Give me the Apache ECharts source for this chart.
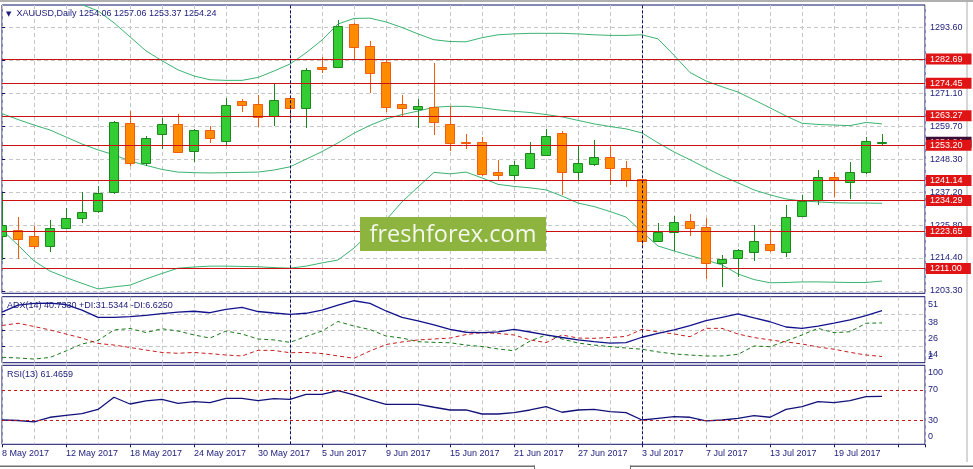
<!DOCTYPE html>
<html>
<head>
<meta charset="utf-8">
<script src="https://cdn.jsdelivr.net/npm/echarts@6.0.0/dist/echarts.min.js"></script>
<style>
html,body{margin:0;padding:0;background:#ffffff;}
#chart{width:973px;height:469px;}
</style>
</head>
<body>
<div id="chart"></div>
<script>
// ================= DATA =================
const symbolName = 'XAUUSD,Daily';
const dates = ['8 May 2017','9 May 2017','10 May 2017','11 May 2017','12 May 2017','15 May 2017','16 May 2017','17 May 2017','18 May 2017','19 May 2017',
  '22 May 2017','23 May 2017','24 May 2017','25 May 2017','26 May 2017','29 May 2017','30 May 2017','31 May 2017','1 Jun 2017','2 Jun 2017',
  '5 Jun 2017','6 Jun 2017','7 Jun 2017','8 Jun 2017','9 Jun 2017','12 Jun 2017','13 Jun 2017','14 Jun 2017','15 Jun 2017','16 Jun 2017',
  '19 Jun 2017','20 Jun 2017','21 Jun 2017','22 Jun 2017','23 Jun 2017','26 Jun 2017','27 Jun 2017','28 Jun 2017','29 Jun 2017','30 Jun 2017',
  '3 Jul 2017','4 Jul 2017','5 Jul 2017','6 Jul 2017','7 Jul 2017','10 Jul 2017','11 Jul 2017','12 Jul 2017','13 Jul 2017','14 Jul 2017',
  '17 Jul 2017','18 Jul 2017','19 Jul 2017','20 Jul 2017','21 Jul 2017','24 Jul 2017'];
const openP  = [1222.0,1224.2,1222.1,1218.8,1225.0,1228.2,1230.8,1237.1,1260.7,1247.0,
  1256.9,1260.4,1251.3,1258.4,1254.8,1268.4,1267.2,1263.1,1269.3,1265.9,
  1279.9,1279.9,1294.7,1287.2,1281.6,1267.2,1265.5,1266.4,1260.4,1254.3,
  1254.2,1243.9,1243.0,1245.3,1249.9,1257.3,1244.1,1246.7,1249.1,1245.3,
  1241.5,1220.5,1223.6,1227.2,1225.3,1212.8,1214.5,1216.8,1219.3,1216.8,
  1229.1,1234.5,1242.2,1240.5,1244.1,1254.06];
const highP  = [1237.0,1228.5,1225.6,1227.6,1231.6,1237.3,1239.3,1261.5,1264.9,1256.4,
  1262.4,1263.8,1258.7,1259.8,1269.5,1269.0,1270.4,1274.2,1270.0,1279.6,
  1283.3,1295.9,1295.2,1289.0,1282.2,1270.4,1269.0,1281.5,1266.6,1257.0,
  1255.9,1248.2,1247.8,1254.4,1258.7,1258.1,1253.3,1255.0,1253.3,1247.9,
  1241.7,1226.5,1229.0,1229.7,1228.2,1215.6,1217.5,1225.9,1224.5,1232.7,
  1236.2,1244.7,1243.9,1247.6,1256.0,1257.06];
const lowP   = [1214.0,1214.1,1217.6,1216.8,1224.4,1226.7,1230.1,1236.4,1246.1,1246.2,
  1251.8,1250.4,1247.6,1253.9,1253.3,1264.7,1259.4,1259.8,1261.6,1259.0,
  1277.8,1279.6,1282.6,1271.2,1264.4,1263.2,1259.0,1256.7,1251.3,1251.8,
  1242.7,1241.3,1241.0,1245.0,1249.5,1236.2,1241.3,1246.2,1239.6,1238.8,
  1218.3,1220.2,1217.1,1222.1,1207.3,1204.6,1208.2,1213.7,1216.5,1214.8,
  1228.5,1232.7,1235.6,1234.8,1243.3,1253.37];
const closeP = [1226.0,1221.0,1218.8,1224.8,1228.2,1230.2,1236.8,1261.1,1247.0,1255.6,
  1260.4,1251.0,1258.4,1255.6,1266.8,1266.9,1262.8,1268.7,1265.9,1279.0,
  1279.4,1294.0,1286.8,1277.8,1266.4,1265.9,1266.6,1261.1,1253.9,1254.0,
  1243.4,1243.0,1246.4,1250.4,1256.5,1244.1,1247.0,1249.1,1245.3,1241.3,
  1220.4,1223.6,1226.8,1225.0,1212.8,1214.3,1217.3,1220.4,1217.3,1228.5,
  1234.1,1242.2,1241.3,1244.1,1254.8,1254.24];
const bbUpper = [1303.8,1305.0,1306.6,1306.7,1304.1,1301.3,1299.2,1295.1,1290.3,1285.5,
  1282.1,1279.0,1276.9,1275.6,1275.4,1275.4,1276.4,1278.6,1281.0,1284.8,
  1289.2,1294.7,1296.6,1296.7,1295.4,1293.5,1291.3,1289.3,1288.7,1288.6,
  1290.0,1291.0,1291.3,1291.5,1291.5,1291.5,1291.3,1291.0,1290.8,1290.8,
  1291.0,1289.6,1284.0,1278.1,1275.2,1273.2,1271.4,1268.7,1266.0,1263.2,
  1260.7,1260.3,1260.1,1259.9,1261.0,1260.5];
const bbMiddle = [1264.0,1262.0,1260.1,1258.4,1256.0,1253.6,1251.6,1249.9,1247.8,1246.3,
  1244.9,1244.0,1243.8,1243.7,1243.8,1243.9,1244.0,1244.7,1245.8,1248.4,
  1251.0,1254.0,1257.3,1260.0,1262.2,1263.7,1264.9,1266.2,1266.5,1266.5,
  1266.0,1265.3,1264.8,1264.4,1263.7,1262.9,1261.7,1260.5,1259.6,1258.8,
  1257.4,1254.0,1250.9,1248.2,1245.4,1242.7,1240.3,1237.9,1236.2,1234.8,
  1234.1,1233.8,1233.5,1233.4,1233.4,1233.3];
const bbLower = [1224.2,1219.0,1213.6,1210.1,1207.9,1205.9,1204.0,1204.7,1205.3,1207.4,
  1209.3,1211.1,1211.5,1211.8,1211.8,1211.7,1211.6,1211.3,1211.1,1211.8,
  1212.9,1213.9,1218.0,1223.2,1227.6,1233.8,1238.9,1243.9,1243.4,1244.0,
  1242.0,1239.8,1239.1,1238.6,1237.9,1235.8,1233.4,1232.2,1230.5,1228.6,
  1223.5,1218.7,1217.0,1215.4,1213.9,1212.2,1209.1,1207.2,1206.1,1206.2,
  1206.4,1206.4,1206.3,1206.2,1206.2,1206.7];
const adx = [39.5,44.8,46.0,46.3,45.2,41.1,35.7,35.7,36.2,37.2,
  38.4,39.6,40.2,39.1,41.6,43.0,40.0,38.9,37.9,38.7,
  41.1,44.8,48.0,46.0,40.4,35.6,33.0,30.0,26.8,24.6,
  24.4,24.9,26.8,24.8,22.6,20.7,18.9,17.7,16.6,16.9,
  20.9,23.7,26.3,29.6,33.2,35.7,38.2,35.2,32.4,28.5,
  27.5,29.2,31.3,33.8,37.0,40.7330];
const plusDI = [6.0,5.5,4.7,5.9,10.7,15.9,18.5,26.3,27.4,24.4,
  27.2,25.5,22.6,20.3,25.5,23.3,19.6,18.9,17.1,21.5,
  25.5,32.6,29.2,26.6,21.8,20.3,17.6,17.1,16.8,15.1,
  14.0,12.2,10.9,18.1,22.6,19.6,16.6,15.1,14.0,12.9,
  12.0,10.0,8.5,7.7,7.0,7.0,8.2,14.4,13.9,18.1,
  22.6,27.5,24.3,25.0,31.3,31.5344];
const minusDI = [29.6,31.3,28.9,26.3,23.3,20.3,16.3,15.1,13.3,11.4,
  9.6,9.0,9.6,8.7,7.7,7.0,11.2,11.1,9.4,9.6,
  8.8,7.0,5.3,10.7,15.5,17.4,18.9,19.6,20.3,22.9,
  24.3,23.7,22.6,18.9,16.9,22.6,20.3,20.1,20.7,21.5,
  26.8,24.8,23.3,21.3,27.5,27.5,23.3,20.7,18.9,17.4,
  15.9,13.7,12.0,9.7,7.7,6.6250];
const rsi = [30.4,29.7,27.8,34.0,36.6,38.7,44.3,60.4,51.5,55.5,
  57.7,52.4,54.6,53.2,59.0,59.0,55.9,58.5,57.7,64.3,
  64.3,69.1,63.4,56.8,51.1,51.1,51.1,47.2,43.6,43.6,
  38.3,38.3,40.0,43.6,48.0,40.6,43.6,44.3,41.4,40.0,
  30.4,32.6,34.8,34.0,29.1,30.4,32.6,36.1,34.0,44.5,
  48.0,54.6,53.2,55.9,61.2,61.4659];
const priceTickLabels = ['1293.60','1282.40','1271.10','1259.70','1248.30','1237.20','1225.80','1214.40','1203.30'];
const levelPrices = [1282.69, 1274.45, 1263.27, 1253.20, 1241.14, 1234.29, 1223.65, 1211.00];
const adxScaleLabels = [51, 38, 26, 14, 2];
const adxGridLevels = [38, 26, 14];
const rsiScaleLabels = [100, 70, 30, 0];
const rsiLevels = [70, 30];
const watermarkText = 'freshforex.com';

// ================= STYLE / LAYOUT =================
const FONT = "'Liberation Sans', Arial, sans-serif";
const NAVY = '#10106A';
const TXT = '#1C1C7C';
const GRIDC = '#C6C6C6';
const SEP = '#0C0C66';
const RED = '#E01414';
const CLEAR = 'rgba(0,0,0,0)';
const BULL_FILL = '#33CC33', BULL_LINE = '#1E861E';
const BEAR_FILL = '#FF8C00', BEAR_LINE = '#F25C0C';
const BAND = '#3CB371';
const LEFT = 2, RIGHT = 48;
const XMAX = 57.6875;
const PMIN = 1202.5, PMAX = 1301.2;
const MAIN = {top: 5, height: 288.3};
const ADXP = {top: 296.7, height: 66, min: 2, max: 51};
const RSIP = {top: 365.3, height: 79, min: -1.7, max: 102.6};
const N = dates.length;

function py(p){ return MAIN.top + (PMAX - p) / (PMAX - PMIN) * MAIN.height; }
function ay(v){ return ADXP.top + (ADXP.max - v) / (ADXP.max - ADXP.min) * ADXP.height; }
const pairs = arr => arr.map((v, i) => [i, v]);
const candleData = dates.map((d, i) => [i, openP[i], closeP[i], lowP[i], highP[i]]);
const monthStarts = dates.map((d, i) => (i > 0 && d.split(' ')[1] !== dates[i-1].split(' ')[1]) ? i : -1).filter(i => i >= 0);
const sepItems = monthStarts.map(i => ({xAxis: i, label: {show: false}, lineStyle: {color: SEP, type: [3, 2], width: 1}}));

function shifted(text, shift){
  const pad = shift >= 0 ? [2 * shift, 0, 0, 0] : [0, 0, -2 * shift, 0];
  return {show: true, position: 'end', distance: 3, formatter: '{s|' + text + '}',
    rich: {s: {padding: pad, color: TXT, fontSize: 9, fontFamily: FONT, lineHeight: 10}}};
}

const g3Top = py(parseFloat(priceTickLabels[0]));
const g3Bot = py(parseFloat(priceTickLabels[priceTickLabels.length - 1]));
const g4Top = ay(adxGridLevels[0]);
const g4Bot = ay(adxGridLevels[adxGridLevels.length - 1]);

function xGridAxis(gi){
  return {type: 'value', gridIndex: gi, min: 0, max: XMAX, interval: 2,
    axisLine: {show: false}, axisTick: {show: false}, axisLabel: {show: false},
    splitLine: {show: true, lineStyle: {color: GRIDC, type: [4, 3], width: 1}}};
}

const chart = echarts.init(document.getElementById('chart'), null, {renderer: 'canvas'});
const lastI = N - 1;

const option = {
  animation: false,
  backgroundColor: '#ffffff',
  textStyle: {fontFamily: FONT},
  title: [
    {text: '{t|\u25BC}  ' + symbolName + ' ' + [openP[lastI], highP[lastI], lowP[lastI], closeP[lastI]].map(v => v.toFixed(2)).join(' '),
     left: 6, top: 8.5, padding: 0,
     textStyle: {fontSize: 9, fontWeight: 'normal', color: TXT, fontFamily: FONT, lineHeight: 11,
       rich: {t: {fontSize: 7, fontFamily: 'DejaVu Sans', color: TXT, lineHeight: 11}}}},
    {text: 'ADX(14) ' + adx[lastI].toFixed(4) + ' +DI:' + plusDI[lastI].toFixed(4) + ' -DI:' + minusDI[lastI].toFixed(4),
     left: 7, top: 300, padding: 0,
     textStyle: {fontSize: 9, fontWeight: 'normal', color: TXT, fontFamily: FONT, lineHeight: 11}},
    {text: 'RSI(13) ' + rsi[lastI].toFixed(4),
     left: 7, top: 369.5, padding: 0,
     textStyle: {fontSize: 9, fontWeight: 'normal', color: TXT, fontFamily: FONT, lineHeight: 11}}
  ],
  grid: [
    {left: LEFT, right: RIGHT, top: MAIN.top, height: MAIN.height, show: true, borderColor: NAVY, borderWidth: 1, backgroundColor: 'transparent', containLabel: false, outerBoundsMode: 'none'},
    {left: LEFT, right: RIGHT, top: ADXP.top, height: ADXP.height, show: true, borderColor: NAVY, borderWidth: 1, backgroundColor: 'transparent', containLabel: false, outerBoundsMode: 'none'},
    {left: LEFT, right: RIGHT, top: RSIP.top, height: RSIP.height, show: true, borderColor: NAVY, borderWidth: 1, backgroundColor: 'transparent', containLabel: false, outerBoundsMode: 'none'},
    {left: LEFT, right: RIGHT, top: g3Top, height: g3Bot - g3Top, show: false, containLabel: false, outerBoundsMode: 'none'},
    {left: LEFT, right: RIGHT, top: g4Top, height: g4Bot - g4Top, show: false, containLabel: false, outerBoundsMode: 'none'}
  ],
  xAxis: [
    xGridAxis(0), xGridAxis(1), xGridAxis(2),
    {type: 'value', gridIndex: 2, min: 0, max: XMAX, interval: 4, position: 'bottom',
     axisLine: {show: false}, splitLine: {show: false},
     axisTick: {show: true, length: 3, lineStyle: {color: NAVY}},
     axisLabel: {show: true, align: 'left', margin: 5, color: TXT, fontSize: 9, fontFamily: FONT,
       formatter: v => (Number.isInteger(v) && v % 4 === 0 && dates[v]) ? dates[v] : ''}},
    {type: 'value', gridIndex: 3, min: 0, max: 1, show: false},
    {type: 'value', gridIndex: 4, min: 0, max: 1, show: false}
  ],
  yAxis: [
    {type: 'value', gridIndex: 0, min: PMIN, max: PMAX, show: false},
    {type: 'value', gridIndex: 1, min: ADXP.min, max: ADXP.max, show: false},
    {type: 'value', gridIndex: 2, min: RSIP.min, max: RSIP.max, show: false},
    {type: 'value', gridIndex: 3, min: 0, max: priceTickLabels.length - 1, interval: 1, position: 'right',
     axisLine: {show: false},
     axisTick: {show: true, length: 3, lineStyle: {color: NAVY}},
     splitLine: {show: true, lineStyle: {color: GRIDC, type: [4, 3], width: 1}},
     axisLabel: {show: true, margin: 5, color: TXT, fontSize: 9, fontFamily: FONT, showMinLabel: true, showMaxLabel: true,
       formatter: v => priceTickLabels[priceTickLabels.length - 1 - v] || ''}},
    {type: 'value', gridIndex: 4, min: 0, max: adxGridLevels[0] - adxGridLevels[adxGridLevels.length - 1], interval: 12, position: 'right',
     axisLine: {show: false}, axisLabel: {show: false},
     axisTick: {show: true, length: 3, lineStyle: {color: NAVY}},
     splitLine: {show: true, lineStyle: {color: GRIDC, type: [4, 3], width: 1}}}
  ],
  graphic: [
    {type: 'rect', shape: {x: 0, y: 0, width: 973, height: 2}, style: {fill: '#B0B0B0'}, silent: true},
    {type: 'rect', shape: {x: 966, y: 2, width: 2, height: 460}, style: {fill: '#D6D6D6'}, silent: true},
    {type: 'rect', shape: {x: 0, y: 465.5, width: 535, height: 1.5}, style: {fill: '#707070'}, silent: true},
    {type: 'rect', shape: {x: 630, y: 465.5, width: 343, height: 1.5}, style: {fill: '#707070'}, silent: true},
    {type: 'rect', shape: {x: 534, y: 465.5, width: 1, height: 4}, style: {fill: '#707070'}, silent: true},
    {type: 'rect', shape: {x: 630, y: 465.5, width: 1, height: 4}, style: {fill: '#707070'}, silent: true},
    {type: 'rect', shape: {x: 360, y: 217, width: 186, height: 34}, style: {fill: '#8DB43F'}, z: 50, silent: true},
    {type: 'text', x: 453, y: 235, z: 51, silent: true,
     style: {text: watermarkText, fill: '#F5F8EC', fontSize: 23.5, fontFamily: "'Open Sans', sans-serif", align: 'center', verticalAlign: 'middle'}}
  ],
  series: [
    {name: 'Upper', type: 'line', xAxisIndex: 0, yAxisIndex: 0, data: pairs(bbUpper), showSymbol: false, clip: true,
     lineStyle: {color: BAND, width: 1}, z: 3},
    {name: 'Middle', type: 'line', xAxisIndex: 0, yAxisIndex: 0, data: pairs(bbMiddle), showSymbol: false, clip: true,
     lineStyle: {color: BAND, width: 1}, z: 3,
     markLine: {silent: true, symbol: ['none', 'none'], animation: false,
       data: [
         {yAxis: closeP[lastI], lineStyle: {color: CLEAR, width: 1},
          label: {show: true, position: 'end', distance: 1, formatter: closeP[lastI].toFixed(2), color: '#ffffff', fontSize: 9, fontFamily: FONT,
                  backgroundColor: '#3A0E34', padding: [1, 9, 0, 4], lineHeight: 10}}
       ].concat(levelPrices.map(v => ({
          yAxis: v, lineStyle: {color: '#CC1010', type: 'solid', width: 1},
          label: {show: true, position: 'end', distance: 1, formatter: v.toFixed(2), color: '#ffffff', fontSize: 9, fontFamily: FONT,
                  backgroundColor: RED, padding: [1, 9, 0, 4], lineHeight: 10}
       }))).concat(sepItems)
     }},
    {name: 'Lower', type: 'line', xAxisIndex: 0, yAxisIndex: 0, data: pairs(bbLower), showSymbol: false, clip: true,
     lineStyle: {color: BAND, width: 1}, z: 3},
    {name: 'XAUUSD', type: 'custom', xAxisIndex: 0, yAxisIndex: 0, data: candleData, clip: true, z: 4,
     encode: {x: 0, y: [1, 2, 3, 4]},
     renderItem: function (params, api) {
       const i = api.value(0), o = api.value(1), c = api.value(2), l = api.value(3), h = api.value(4);
       const pO = api.coord([i, o]), pC = api.coord([i, c]), pL = api.coord([i, l]), pH = api.coord([i, h]);
       const x = Math.round(pO[0]) + 0.5;
       const up = c >= o;
       const top = Math.round(Math.min(pO[1], pC[1])) + 0.5;
       const bot = Math.max(Math.round(Math.max(pO[1], pC[1])) + 0.5, top + 1);
       const line = up ? BULL_LINE : BEAR_LINE;
       return {type: 'group', children: [
         {type: 'line', shape: {x1: x, y1: Math.round(pH[1]), x2: x, y2: Math.round(pL[1])}, style: {stroke: line, lineWidth: 1}},
         {type: 'rect', shape: {x: x - 5, y: top, width: 9, height: bot - top}, style: {fill: up ? BULL_FILL : BEAR_FILL, stroke: line, lineWidth: 1}}
       ]};
     }},
    {name: 'ADX', type: 'line', xAxisIndex: 1, yAxisIndex: 1, data: pairs(adx), showSymbol: false, clip: true,
     lineStyle: {color: '#12128C', width: 1.3}, z: 4,
     markLine: {silent: true, symbol: ['none', 'none'], animation: false,
       data: adxScaleLabels.map(v => ({yAxis: v, lineStyle: {color: CLEAR, width: 1},
          label: shifted(String(v), v === ADXP.min ? -6 : 8)})).concat(sepItems)}},
    {name: '+DI', type: 'line', xAxisIndex: 1, yAxisIndex: 1, data: pairs(plusDI), showSymbol: false, clip: true,
     lineStyle: {color: '#1A7A1A', width: 1, type: [4, 3]}, z: 3},
    {name: '-DI', type: 'line', xAxisIndex: 1, yAxisIndex: 1, data: pairs(minusDI), showSymbol: false, clip: true,
     lineStyle: {color: '#C81E1E', width: 1, type: [4, 3]}, z: 3},
    {name: 'RSI', type: 'line', xAxisIndex: 2, yAxisIndex: 2, data: pairs(rsi), showSymbol: false, clip: true,
     lineStyle: {color: '#12127A', width: 1.3}, z: 4,
     markLine: {silent: true, symbol: ['none', 'none'], animation: false,
       data: rsiScaleLabels.map(v => {
         const isLevel = rsiLevels.indexOf(v) >= 0;
         const shift = v === 100 ? 5 : (v === 0 ? -6 : 0);
         return {yAxis: v,
           lineStyle: isLevel ? {color: '#C41414', type: [3, 3], width: 1} : {color: CLEAR, width: 1},
           label: shifted(String(v), shift)};
       }).concat(sepItems)}},
    {name: 'gridHelperMain', type: 'line', xAxisIndex: 4, yAxisIndex: 3, data: [], silent: true},
    {name: 'gridHelperAdx', type: 'line', xAxisIndex: 5, yAxisIndex: 4, data: [], silent: true}
  ]
};
chart.setOption(option);
</script>
</body>
</html>
